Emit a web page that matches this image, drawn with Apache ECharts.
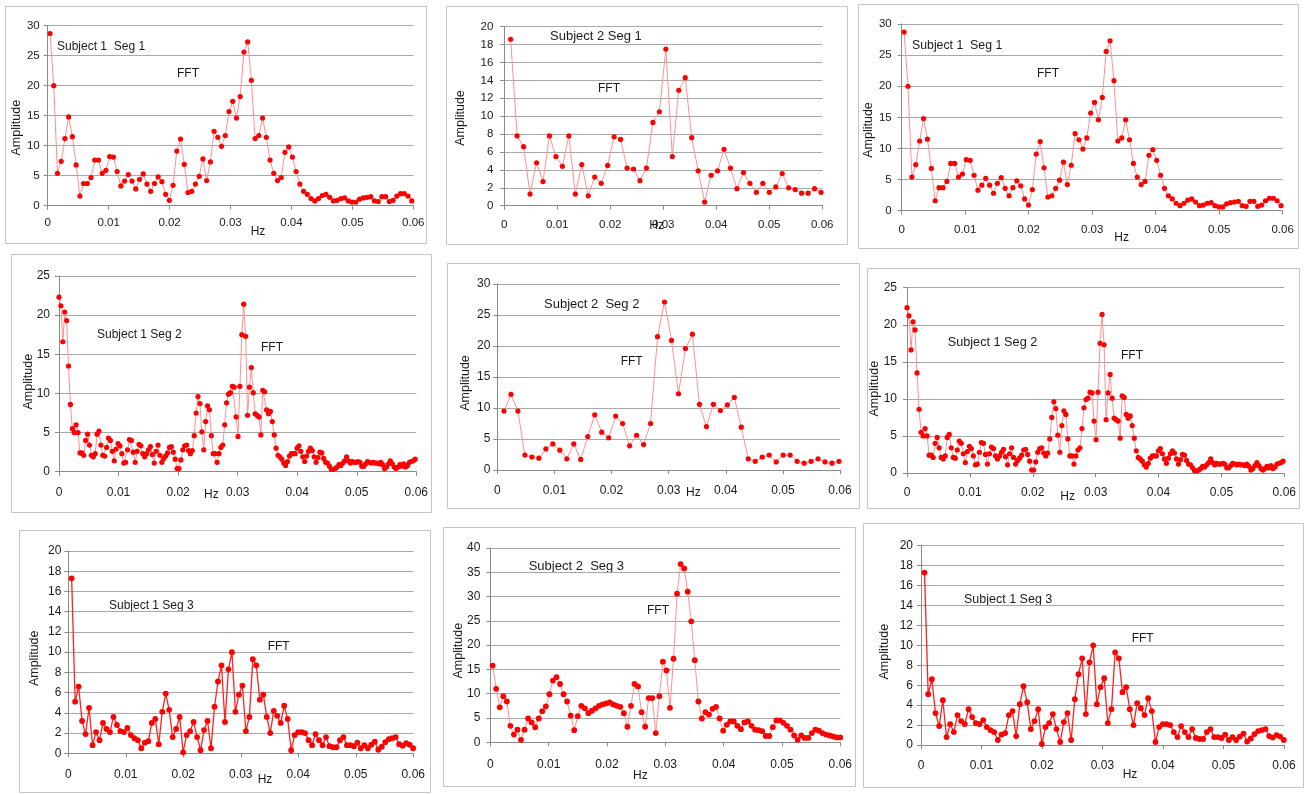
<!DOCTYPE html>
<html><head><meta charset="utf-8">
<script src="https://cdn.jsdelivr.net/npm/echarts@6/dist/echarts.min.js"></script>
<style>html,body{margin:0;padding:0;background:#fff}#c{width:1306px;height:794px}</style>
</head><body><div id="c"></div>
<script>
// ---------- DATA (FFT amplitudes) ----------
const xTickLabels = ['0', '0.01', '0.02', '0.03', '0.04', '0.05', '0.06'];

// Subject 1 Seg 1 (panels 1 and 3)
const s1seg1 = [28.7, 20.0, 5.4, 7.4, 11.2, 14.8, 11.5, 6.8, 1.6, 3.7,
  3.7, 4.7, 7.6, 7.6, 5.4, 5.9, 8.2, 8.1, 5.7, 3.3,
  4.1, 5.2, 4.1, 2.8, 4.4, 5.3, 3.6, 2.4, 3.7, 4.8,
  4.0, 1.9, 0.9, 3.4, 9.1, 11.1, 6.9, 2.2, 2.4, 3.6,
  4.9, 7.8, 4.2, 7.3, 12.4, 11.4, 9.9, 11.7, 15.7, 17.4,
  14.6, 18.2, 25.6, 27.3, 20.9, 11.2, 11.7, 14.6, 11.4, 7.6,
  5.4, 4.2, 4.7, 8.9, 9.8, 8.1, 5.7, 3.6, 2.4, 1.9,
  1.2, 0.8, 1.2, 1.7, 1.9, 1.4, 0.8, 0.9, 1.2, 1.3,
  0.8, 0.6, 0.6, 1.1, 1.3, 1.4, 1.5, 0.8, 0.7, 1.5,
  1.5, 0.7, 0.9, 1.6, 2.0, 2.0, 1.6, 0.8];
const s1seg1Freq = [0.00038, 0.000612];   // first bin, bin width (Hz)

// Subject 2 Seg 1
const s2seg1 = [18.6, 7.8, 6.6, 1.3, 4.8, 2.7, 7.8, 5.5, 4.4, 7.8,
  1.3, 4.6, 1.1, 3.2, 2.5, 4.5, 7.7, 7.4, 4.2, 4.1,
  2.8, 4.2, 9.3, 10.5, 17.5, 5.5, 12.9, 14.3, 7.6, 3.9,
  0.4, 3.4, 3.9, 6.3, 4.2, 1.9, 3.7, 2.5, 1.5, 2.5,
  1.5, 2.1, 3.6, 2.0, 1.8, 1.4, 1.4, 1.9, 1.5, 0.7];
const s2seg1Freq = [0.0012, 0.00122];

// Subject 1 Seg 2 (panels 4 and 6)
const s1seg2 = [22.3, 21.2, 16.6, 20.4, 19.3, 13.5, 8.6, 5.5, 5.0, 6.0,
  5.0, 2.4, 2.4, 2.1, 4.0, 4.8, 3.4, 2.1, 1.9, 2.3,
  4.8, 5.2, 3.4, 2.1, 2.0, 3.1, 4.3, 4.0, 2.6, 1.4,
  2.9, 3.6, 3.3, 2.3, 1.1, 1.2, 2.8, 4.1, 4.0, 2.5,
  1.2, 2.6, 3.5, 3.3, 2.3, 1.9, 2.3, 2.8, 3.2, 2.2,
  1.1, 2.6, 3.4, 2.1, 1.2, 1.7, 2.0, 2.4, 3.1, 3.2,
  2.5, 1.6, 0.4, 0.4, 1.5, 2.8, 3.3, 3.4, 2.7, 2.3,
  2.7, 4.6, 7.5, 9.6, 8.7, 5.1, 2.8, 6.4, 8.4, 7.9,
  4.6, 2.3, 2.3, 1.2, 2.3, 3.1, 3.4, 6.0, 8.8, 9.9,
  10.1, 10.9, 10.8, 7.0, 4.5, 10.9,
  17.5, 21.4, 17.3, 7.2, 10.8, 13.3, 10.1, 7.4, 7.2, 7.0,
  4.7, 10.4, 10.2, 7.9, 7.4, 7.7, 6.4, 4.7, 3.0, 2.1,
  1.9, 1.6, 1.1, 0.8, 1.3, 2.0, 2.3, 2.3, 2.3, 3.0, 3.3, 2.6,
  1.9, 1.3, 2.0, 2.6, 3.0, 2.7, 1.9, 1.2, 1.8, 2.5,
  2.4, 1.7, 1.2, 1.1, 0.7, 0.3, 0.3, 0.4, 0.6, 0.9,
  0.8, 1.1, 1.4, 1.9, 1.4, 1.1, 1.3, 1.2, 1.2, 1.3,
  1.2, 0.7, 0.7, 1.0, 1.3, 1.2, 1.1, 1.2, 1.1, 1.1, 1.0,
  1.2, 0.9, 0.4, 0.6, 1.0, 1.4, 1.0, 0.6, 0.4, 0.6,
  0.9, 0.7, 1.0, 0.6, 0.8, 1.2, 1.3, 1.4, 1.6];
const s1seg2Freq = [0, 0.0003198];

// Subject 2 Seg 2
const s2seg2 = [9.5, 12.2, 9.5, 2.4, 2.1, 1.9, 3.4, 4.2, 3.2, 1.8,
  4.2, 1.7, 5.4, 8.9, 6.1, 5.2, 8.7, 7.5, 3.9, 5.6,
  4.1, 7.5, 21.5, 27.1, 20.9, 12.3, 19.6, 21.9, 10.6, 7.0,
  10.6, 9.6, 10.5, 11.7, 6.9, 1.8, 1.4, 2.1, 2.4, 1.3,
  2.4, 2.4, 1.4, 1.1, 1.4, 1.8, 1.3, 1.1, 1.4, 0.6];
const s2seg2Freq = [0.00117, 0.001222];

// Subject 1 Seg 3 (panels 7 and 9)
const s1seg3 = [17.3, 5.1, 6.6, 3.2, 1.9, 4.5, 0.8, 2.1, 1.3, 3.0,
  2.4, 2.1, 3.6, 2.8, 2.2, 2.1, 2.5, 1.8, 1.5, 1.3,
  0.5, 1.05, 1.2, 3.0, 3.4, 0.9, 4.1, 5.9, 4.3, 1.6,
  2.4, 3.6, 0.1, 1.8, 2.2, 3.1, 1.6, 0.3, 2.3, 3.2,
  0.5, 4.6, 7.1, 8.7, 3.1, 8.3, 10.0, 4.1, 5.8, 6.7,
  2.2, 3.6, 9.3, 8.7, 5.3, 5.8, 3.6, 2.0, 4.2, 3.7,
  3.0, 4.7, 3.4, 0.3, 1.8, 2.1, 2.1, 2.0, 1.3, 0.8,
  1.9, 1.3, 0.8, 1.6, 0.7, 0.6, 0.6, 1.3, 1.6, 0.8,
  0.8, 0.7, 1.05, 0.5, 0.8, 0.5, 0.85, 1.15, 0.35, 0.65,
  1.1, 1.4, 1.5, 1.6, 0.9, 0.75, 1.0, 0.85, 0.5];
const s1seg3Freq = [0.00058, 0.000606];

// Subject 2 Seg 3
const s2seg3 = [15.8, 11.0, 7.2, 9.5, 8.4, 3.4, 1.6, 2.6, 0.5, 2.6,
  4.9, 4.1, 3.1, 4.9, 6.4, 7.4, 9.9, 12.7, 13.4, 12.0,
  9.9, 8.4, 5.5, 2.5, 5.4, 7.5, 7.0, 6.0, 6.5, 7.0,
  7.5, 7.8, 8.0, 8.2, 7.8, 7.5, 7.3, 6.0, 3.2, 7.5,
  12.0, 11.5, 6.2, 3.2, 9.1, 9.1, 1.9, 9.5, 16.6, 14.8,
  7.1, 17.2, 30.6, 36.7, 35.8, 31.0, 24.9, 16.9, 8.4, 4.9,
  6.2, 5.7, 6.9, 7.3, 4.9, 2.4, 3.6, 4.3, 4.3, 3.4,
  2.7, 4.1, 4.3, 3.4, 2.6, 2.5, 2.3, 1.3, 1.3, 3.1,
  4.5, 4.5, 4.0, 3.4, 2.6, 1.4, 0.5, 1.4, 0.9, 0.9,
  1.9, 2.6, 2.4, 1.9, 1.6, 1.4, 1.2, 1.0, 1.0];
const s2seg3Freq = [0.0004, 0.000608];

const titles = ['Subject 1  Seg 1', 'Subject 2 Seg 1', 'Subject 1  Seg 1',
  'Subject 1 Seg 2', 'Subject 2  Seg 2', 'Subject 1 Seg 2',
  'Subject 1 Seg 3', 'Subject 2  Seg 3', 'Subject 1 Seg 3'];
const yMax = [30, 20, 30, 25, 30, 25, 20, 40, 20];
const yStep = [5, 2, 5, 5, 5, 5, 2, 5, 2];

// ---------- LAYOUT ----------
const panels = [
  {vals: s1seg1, f: s1seg1Freq, grid: [47.7, 25.7, 365.6, 180], frame: [5, 6, 421, 237],
   sub: [57, 46.7, 12], fft: [177, 74], amp: [16.7, 127.7], hz: [258, 231.7], xm: 11, ym: 8, dot: 5.2, strong: false, fs: 11.5},
  {vals: s2seg1, f: s2seg1Freq, grid: [504.3, 26.7, 318, 179], frame: [446, 6, 401, 238],
   sub: [550, 36.7, 13], fft: [598, 89], amp: [460.7, 118], hz: [656.7, 226], xm: 13, ym: 11, dot: 5.2, strong: false, fs: 11.5},
  {vals: s1seg1, f: s1seg1Freq, grid: [901.7, 24, 381, 186.7], frame: [858, 4, 440, 244],
   sub: [912, 46, 12.3], fft: [1037, 74], amp: [868.3, 130], hz: [1121.7, 238], xm: 13, ym: 10, dot: 5.2, strong: false, fs: 11.5},
  {vals: s1seg2, f: s1seg2Freq, grid: [59, 276, 357.3, 195.7], frame: [11, 254, 420, 258],
   sub: [97, 335, 12], fft: [261, 347.3], amp: [28.7, 381.7], hz: [211.3, 495], xm: 15, ym: 9, dot: 5.2, strong: false, fs: 12},
  {vals: s2seg2, f: s2seg2Freq, grid: [497.3, 284, 342.7, 186], frame: [447, 263, 412, 245],
   sub: [544, 304, 13], fft: [620.7, 362], amp: [465.7, 383], hz: [693.3, 493], xm: 15, ym: 7, dot: 5.2, strong: false, fs: 12},
  {vals: s1seg2, f: s1seg2Freq, grid: [907, 287.7, 377.3, 185.3], frame: [867, 268, 432, 240],
   sub: [947.7, 342.7, 12.7], fft: [1121, 356], amp: [874.3, 388.7], hz: [1067.7, 496.3], xm: 14, ym: 10, dot: 5.2, strong: false, fs: 12},
  {vals: s1seg3, f: s1seg3Freq, grid: [68.3, 551, 345, 202.3], frame: [19, 530, 411, 262],
   sub: [109, 605.7, 12], fft: [267.7, 646.7], amp: [34.3, 658.3], hz: [265, 780], xm: 15, ym: 7, dot: 5.8, strong: true, fs: 12},
  {vals: s2seg3, f: s2seg3Freq, grid: [490.3, 548, 350, 194.3], frame: [443, 527, 412, 259],
   sub: [528.7, 566.7, 13], fft: [647, 610.7], amp: [458.7, 650.7], hz: [640.3, 775.7], xm: 16, ym: 10, dot: 5.8, strong: false, fs: 12},
  {vals: s1seg3, f: s1seg3Freq, grid: [921, 545.7, 363, 199.3], frame: [863, 523, 440, 264],
   sub: [964, 599.3, 12.5], fft: [1131.7, 638.3], amp: [885, 651.7], hz: [1130, 775], xm: 15, ym: 8, dot: 5.8, strong: true, fs: 12}
];

const FONT = '"Liberation Sans", Arial, sans-serif';
const grids = [], xAxes = [], yAxes = [], series = [], graphics = [];

panels.forEach((p, k) => {
  grids.push({left: p.grid[0], top: p.grid[1], width: p.grid[2], height: p.grid[3], containLabel: false});
  xAxes.push({
    type: 'value', gridIndex: k, min: 0, max: 0.06, interval: 0.01,
    axisLine: {show: true, onZero: false, lineStyle: {color: '#8a8a8a', width: 1}},
    axisTick: {show: true, inside: false, length: 4, lineStyle: {color: '#8a8a8a'}},
    axisLabel: {margin: p.xm, color: '#1a1a1a', fontSize: p.fs, fontFamily: FONT,
      showMinLabel: true, showMaxLabel: true,
      formatter: v => xTickLabels[Math.round(v / 0.01)] ?? ''},
    splitLine: {show: false}
  });
  yAxes.push({
    type: 'value', gridIndex: k, min: 0, max: yMax[k], interval: yStep[k],
    axisLine: {show: true, lineStyle: {color: '#8a8a8a', width: 1}},
    axisTick: {show: true, inside: false, length: 4, lineStyle: {color: '#8a8a8a'}},
    axisLabel: {margin: p.ym, color: '#1a1a1a', fontSize: p.fs, fontFamily: FONT},
    splitLine: {show: true, lineStyle: {color: '#a8a8a8', width: 1}}
  });
  series.push({
    type: 'line', xAxisIndex: k, yAxisIndex: k, clip: true,
    data: p.vals.map((v, i) => [p.f[0] + i * p.f[1], v]),
    symbol: 'circle', symbolSize: p.dot, showSymbol: true,
    itemStyle: {color: '#ff0000'},
    lineStyle: {color: p.strong ? '#ff2020' : '#ff9090', width: p.strong ? 1.3 : 1},
    emphasis: {disabled: true}, silent: true, animation: false
  });
  graphics.push({type: 'rect', z: -1, shape: {x: p.frame[0] + 0.5, y: p.frame[1] + 0.5, width: p.frame[2], height: p.frame[3]},
    style: {fill: 'none', stroke: '#c4c4c4', lineWidth: 1}});
  graphics.push({type: 'text', x: p.sub[0], y: p.sub[1],
    style: {text: titles[k], fill: '#1a1a1a', fontSize: p.sub[2], fontFamily: FONT, align: 'left', verticalAlign: 'middle'}});
  graphics.push({type: 'text', x: p.fft[0], y: p.fft[1],
    style: {text: 'FFT', fill: '#1a1a1a', fontSize: 12, fontFamily: FONT, align: 'left', verticalAlign: 'middle'}});
  graphics.push({type: 'text', x: p.amp[0], y: p.amp[1], rotation: Math.PI / 2,
    style: {text: 'Amplitude', fill: '#1a1a1a', fontSize: 12.5, fontFamily: FONT, align: 'center', verticalAlign: 'middle'}});
  graphics.push({type: 'text', x: p.hz[0], y: p.hz[1],
    style: {text: 'Hz', fill: '#1a1a1a', fontSize: 12, fontFamily: FONT, align: 'center', verticalAlign: 'middle'}});
});

const chart = echarts.init(document.getElementById('c'), null, {renderer: 'canvas'});
chart.setOption({
  animation: false,
  backgroundColor: '#ffffff',
  grid: grids, xAxis: xAxes, yAxis: yAxes, series: series,
  graphic: {elements: graphics}
});
</script></body></html>
